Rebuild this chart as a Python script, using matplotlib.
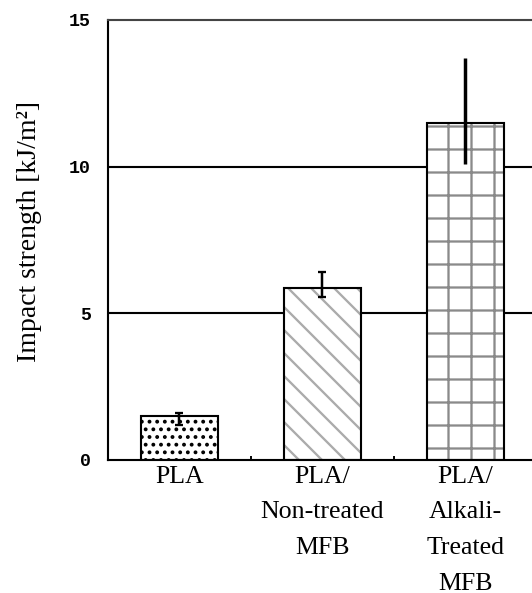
import numpy as np
import matplotlib.pyplot as plt

# impact strength of the three samples
materials = ['PLA', 'PLA/\nNon-treated\nMFB', 'PLA/\nAlkali-\nTreated\nMFB']
strength = [1.5, 5.85, 11.5]
err_low = [0.3, 0.3, 1.4]
err_high = [0.1, 0.55, 2.2]
hatches = ['...', '\\\\', '+']
hatch_colors = ['black', '#ababab', '#8a8a8a']
y_ticks = [0, 5, 10, 15]

DPI = 138
fig = plt.figure(figsize=(532 / DPI, 593 / DPI), dpi=DPI)
ax = fig.add_axes([0.203, 0.2243, 0.806, 0.742])
plt.rcParams['hatch.linewidth'] = 1.2

x = np.arange(len(materials)) + 0.5
width = 0.54

# hatch layer first (no outline), then the black outline on top
ax.bar(x, strength, width, color='white', edgecolor=hatch_colors,
       hatch=hatches, linewidth=0, zorder=2)
ax.bar(x, strength, width, fill=False, edgecolor='black', linewidth=1.1, zorder=3)
# small caps on the short error bars, plain line on the long one
for i in range(len(materials)):
    cap = 2 if i < 2 else 0
    lw = 1.3 if i < 2 else 1.8
    ax.errorbar(x[i], strength[i], yerr=[[err_low[i]], [err_high[i]]], fmt='none',
                ecolor='black', elinewidth=lw, capsize=cap, capthick=1.2, zorder=4)

ax.set_xlim(0, 3)
ax.set_ylim(0, 15)
ax.set_yticks(y_ticks)
ax.set_yticklabels([str(t) for t in y_ticks], family='Liberation Mono',
                   fontweight='bold', fontsize=9.5)
ax.set_xticks(x)
ax.set_xticklabels(materials, family='Liberation Serif', fontsize=13.5,
                   linespacing=1.8, va='top')
ax.tick_params(axis='x', length=0, pad=3)
ax.tick_params(axis='y', length=0, pad=9)
ax.set_xticks([1, 2], minor=True)
ax.tick_params(axis='x', which='minor', direction='in', length=2, width=1)

for yv in [5, 10]:
    ax.axhline(yv, color='black', linewidth=1.1, zorder=1)

ax.spines['right'].set_visible(False)
ax.spines['top'].set_color('#444444')
for s in ['left', 'bottom', 'top']:
    ax.spines[s].set_linewidth(1.1)

fig.text(0.056, 0.61, 'Impact strength [kJ/m²]', rotation=90, ha='center',
         va='center', family='Liberation Serif', fontsize=14.5)

fig.savefig('out.png', dpi=DPI)
